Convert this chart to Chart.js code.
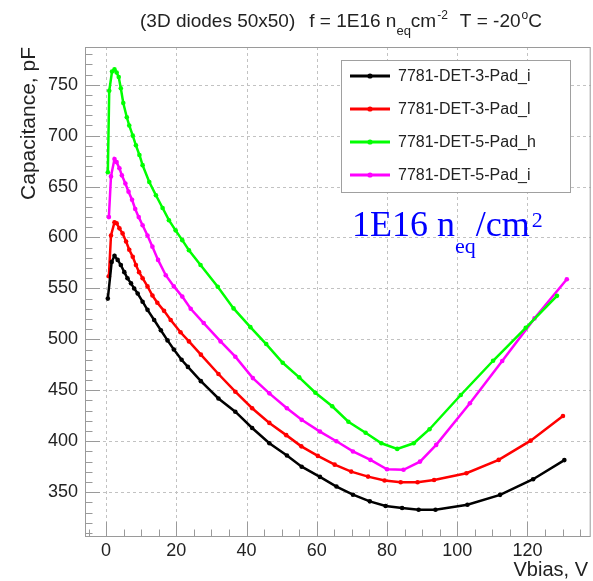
<!DOCTYPE html>
<html>
<head>
<meta charset="utf-8">
<script src="https://cdn.jsdelivr.net/npm/chart.js@4/dist/chart.umd.min.js"></script>
<style>
  html, body { margin: 0; padding: 0; background: #fff; }
</style>
</head>
<body>
<canvas id="cv" width="593" height="581"></canvas>
<script>
// ===== DATA =====
const seriesNames = ['7781-DET-3-Pad_i', '7781-DET-3-Pad_l', '7781-DET-5-Pad_h', '7781-DET-5-Pad_i'];
const seriesColors = ['#000000', '#ff0000', '#00ff00', '#ff00ff'];

const blackV = [0.5, 1.6, 2.4, 3.3, 4.2, 5.2, 6.1, 7.1, 8.0, 9.0, 10.4, 11.8, 13.7, 15.6, 17.5, 19.3, 21.5, 23.3, 27.0, 32.0, 36.8, 41.6, 46.5, 51.5, 55.7, 60.9, 65.6, 70.3, 75.1, 79.6, 84.3, 89.0, 93.8, 102.9, 112.2, 121.6, 130.5];
const blackC = [540, 576, 582, 578, 573, 566, 560, 555, 550, 545, 537, 529, 519, 509, 499, 490, 480, 473, 459, 442, 429, 413, 398, 386, 375, 365, 355.5, 347.5, 341, 336.5, 334.5, 332.7, 332.7, 337.6, 347.4, 362.7, 381.5];

const redV = [0.8, 1.4, 2.4, 3.0, 3.8, 4.7, 5.7, 6.6, 7.6, 8.5, 9.4, 10.4, 11.8, 13.2, 14.6, 16.5, 18.4, 21.2, 23.6, 27.0, 32.0, 36.8, 41.6, 46.5, 51.3, 55.6, 60.3, 65.1, 69.8, 74.6, 79.3, 83.9, 88.7, 93.4, 102.6, 111.8, 120.9, 130.1];
const redC = [562, 602, 615, 614, 609, 604, 596, 588, 581, 573, 566, 560, 552, 543, 536, 528, 519, 507, 498, 485, 466, 448.6, 432.4, 418, 406, 395, 385.6, 377, 370.2, 365.3, 361.4, 359.8, 359.8, 362, 368.6, 381.7, 400.6, 424.8];

const greenV = [0.5, 0.9, 1.7, 2.4, 3.0, 3.6, 4.2, 4.9, 5.9, 6.6, 7.6, 8.5, 9.5, 10.4, 12.3, 14.2, 16.1, 17.9, 19.8, 21.7, 23.6, 26.9, 31.8, 36.3, 41.1, 45.6, 50.3, 55.0, 59.6, 64.4, 69.0, 73.9, 78.4, 82.9, 87.6, 92.1, 101.0, 110.2, 119.5, 128.4];
const greenC = [664, 744, 763, 765, 762, 757.5, 746.5, 732, 718, 710, 700, 690.5, 681, 671, 654.5, 641.5, 629, 617, 607, 597.4, 587.5, 573, 551.6, 530.4, 512, 495.4, 477, 462.7, 447.6, 434.3, 419.2, 408.4, 398, 392.5, 398, 411.8, 445.4, 479, 511.4, 542.7];

const magV = [0.8, 1.4, 2.4, 3.0, 3.8, 4.5, 5.5, 6.4, 7.4, 8.3, 9.3, 10.4, 11.8, 13.2, 14.8, 17.0, 19.3, 21.7, 24.1, 27.8, 32.6, 36.8, 41.8, 46.5, 51.5, 55.7, 60.9, 65.6, 70.3, 75.3, 80.0, 84.7, 89.4, 94.0, 103.6, 112.8, 122.0, 131.2];
const magC = [620, 660, 677, 674, 668, 661, 653, 645, 637, 628, 620, 612, 602, 591, 578, 563, 552, 542, 530, 516, 498, 483, 462, 447, 432.4, 421, 409.5, 400, 390, 381.7, 372.5, 372, 380, 396.4, 437.3, 478.7, 520.6, 559];

const seriesV = [blackV, redV, greenV, magV];
const seriesC = [blackC, redC, greenC, magC];

const xTicks = [0, 20, 40, 60, 80, 100, 120];
const yTicks = [350, 400, 450, 500, 550, 600, 650, 700, 750];

const SANS = '"Liberation Sans", Arial, Helvetica, sans-serif';
const SERIF = '"Liberation Serif", "Times New Roman", serif';

// ===== helpers =====
function seg(ctx, x1, y1, x2, y2) {
  ctx.beginPath(); ctx.moveTo(x1, y1); ctx.lineTo(x2, y2); ctx.stroke();
}

// draw text pieces one after another (for sub/superscripts)
function richText(ctx, parts, x, y, family, color) {
  ctx.fillStyle = color;
  ctx.textAlign = 'left';
  ctx.textBaseline = 'alphabetic';
  let cx = x;
  parts.forEach(p => {
    ctx.font = `${p.s}px ${family}`;
    ctx.fillText(p.t, cx + (p.dx || 0), y + (p.dy || 0));
    cx += ctx.measureText(p.t).width + (p.dx || 0);
  });
}

// ===== ROOT-style frame, grid, ticks, legend and labels =====
const rootDecor = {
  id: 'rootDecor',
  beforeDatasetsDraw(chart) {
    const { ctx, chartArea: a, scales: { x, y } } = chart;
    ctx.save();
    ctx.strokeStyle = '#c2c2c2';
    ctx.lineWidth = 1;
    ctx.setLineDash([3, 3]);
    xTicks.forEach(v => { const p = Math.round(x.getPixelForValue(v)) + 0.5; seg(ctx, p, a.top, p, a.bottom); });
    yTicks.forEach(v => { const p = Math.round(y.getPixelForValue(v)) + 0.5; seg(ctx, a.left, p, a.right, p); });
    ctx.restore();
  },
  afterDraw(chart) {
    const { ctx, chartArea: a, scales: { x, y } } = chart;
    ctx.save();

    // frame
    ctx.strokeStyle = '#9a9a9a';
    ctx.lineWidth = 1;
    ctx.strokeRect(a.left + 0.5, a.top + 0.5, a.right - a.left - 1, a.bottom - a.top - 1);

    // ticks (inside)
    for (let v = -5; v <= 135; v += 5) {
      const p = Math.round(x.getPixelForValue(v)) + 0.5;
      const len = v % 20 === 0 ? 15 : 7.5;
      seg(ctx, p, a.bottom, p, a.bottom - len);
    }
    for (let v = 310; v <= 780; v += 10) {
      const p = Math.round(y.getPixelForValue(v)) + 0.5;
      const len = v % 50 === 0 ? 15 : 7.5;
      seg(ctx, a.left, p, a.left + len, p);
    }

    // title
    richText(ctx, [
      { t: '(3D diodes 50x50)', s: 19 },
      { t: 'f = 1E16 n', s: 19, dx: 14 },
      { t: 'eq', s: 13, dy: 8 },
      { t: 'cm', s: 19 },
      { t: '-2', s: 12, dy: -8, dx: 1 },
      { t: 'T = -20', s: 19, dx: 12 },
      { t: 'o', s: 12, dy: -8, dx: 1 },
      { t: 'C', s: 19 }
    ], 140, 27, SANS, '#222222');

    // fluence annotation
    richText(ctx, [
      { t: '1E16 n', s: 36 },
      { t: 'eq', s: 22, dy: 17 },
      { t: '/cm', s: 36 },
      { t: '2', s: 22, dy: -9, dx: 2 }
    ], 352, 236, SERIF, '#0000ff');

    // axis titles
    ctx.fillStyle = '#222222';
    ctx.font = `20px ${SANS}`;
    ctx.textAlign = 'right';
    ctx.textBaseline = 'alphabetic';
    ctx.fillText('Vbias, V', 588, 576);
    ctx.save();
    ctx.font = `21px ${SANS}`;
    ctx.translate(35, 47);
    ctx.rotate(-Math.PI / 2);
    ctx.fillText('Capacitance, pF', 0, 0);
    ctx.restore();

    // legend box
    ctx.fillStyle = '#ffffff';
    ctx.fillRect(341.5, 60.5, 229, 132);
    ctx.strokeStyle = '#a0a0a0';
    ctx.lineWidth = 1;
    ctx.strokeRect(341.5, 60.5, 229, 132);
    const rows = [76, 109, 142, 175];
    chart.data.datasets.forEach((ds, i) => {
      const ry = rows[i];
      ctx.strokeStyle = ds.borderColor;
      ctx.lineWidth = 3;
      seg(ctx, 350, ry, 390, ry);
      ctx.fillStyle = ds.borderColor;
      ctx.beginPath(); ctx.arc(370, ry, 2.6, 0, Math.PI * 2); ctx.fill();
      ctx.fillStyle = '#222222';
      ctx.font = `16px ${SANS}`;
      ctx.textAlign = 'left';
      ctx.textBaseline = 'middle';
      ctx.fillText(ds.label, 398, ry + 1);
    });

    ctx.restore();
  }
};

// ===== CHART =====
const datasets = seriesNames.map((name, i) => ({
  label: name,
  data: seriesV[i].map((v, k) => ({ x: v, y: seriesC[i][k] })),
  borderColor: seriesColors[i],
  backgroundColor: seriesColors[i],
  borderWidth: 2.5,
  pointRadius: 2.3,
  pointHoverRadius: 2.3,
  pointBorderWidth: 0,
  tension: 0,
  fill: false
}));

new Chart(document.getElementById('cv'), {
  type: 'line',
  data: { datasets },
  options: {
    responsive: false,
    animation: false,
    layout: { padding: { top: 47, right: 1, left: 0, bottom: 0 } },
    plugins: {
      legend: { display: false },
      title: { display: false },
      tooltip: { enabled: false }
    },
    scales: {
      x: {
        type: 'linear',
        min: -6,
        max: 138,
        afterFit: s => { s.height = 44; },
        afterBuildTicks: s => { s.ticks = xTicks.map(v => ({ value: v })); },
        grid: { display: false, drawTicks: false },
        border: { display: false },
        ticks: { color: '#222222', font: { family: SANS, size: 18 }, padding: 3, maxRotation: 0 }
      },
      y: {
        type: 'linear',
        min: 306,
        max: 787,
        afterFit: s => { s.width = 85; },
        afterBuildTicks: s => { s.ticks = yTicks.map(v => ({ value: v })); },
        grid: { display: false, drawTicks: false },
        border: { display: false },
        ticks: { color: '#222222', font: { family: SANS, size: 18 }, padding: 7 }
      }
    }
  },
  plugins: [rootDecor]
});
</script>
</body>
</html>
